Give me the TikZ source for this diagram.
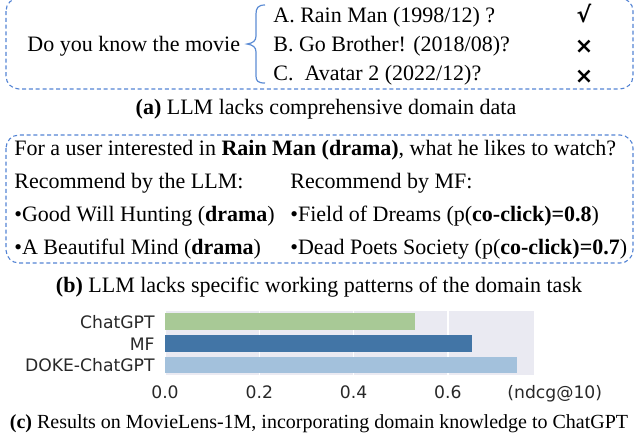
\documentclass[tikz,border=0pt]{standalone}
\usepackage{fontspec}
\setmainfont{Liberation Serif}
\newfontfamily\dvsans{DejaVu Sans}
\newfontfamily\dvsansb{DejaVu Sans Bold}
\definecolor{boxblue}{RGB}{84,132,212}
\definecolor{braceblue}{RGB}{92,140,212}
\definecolor{bggray}{RGB}{234,234,242}
\definecolor{bargreen}{RGB}{168,201,150}
\definecolor{barblue}{RGB}{66,117,166}
\definecolor{barlight}{RGB}{163,193,220}
\definecolor{lblgray}{RGB}{40,40,40}
\begin{document}
\begin{tikzpicture}[x=0.5pt,y=-0.5pt,
  dashbox/.style={draw=boxblue, dash pattern=on 2pt off 1.4pt, line width=0.55pt, rounded corners=6.5pt},
  txt/.style={inner sep=0pt, font=\fontsize{11}{13}\selectfont, anchor=base west},
  capt/.style={inner sep=0pt, font=\fontsize{11}{13}\selectfont, anchor=base},
  captsmall/.style={inner sep=0pt, font=\fontsize{10}{12}\selectfont, anchor=base},
  ansmark/.style={inner sep=0pt, font=\dvsansb\fontsize{11}{13}\selectfont},
  clbl/.style={inner sep=0pt, font=\dvsans\fontsize{8.6}{10}\selectfont, text=lblgray},
  gridline/.style={draw=white, line width=0.8pt}]
\useasboundingbox (0,0) rectangle (639,435);

% ---------- (a) ----------
\draw[dashbox] (6,-2) rectangle (633,89);
\node[txt] (q) at (27,51) {Do you know the movie};
\draw[braceblue, line width=0.6pt] (265,5) .. controls (258,5) and (256,8) .. (256,14) -- (256,36)
  .. controls (256,41) and (253,43) .. (247,44) .. controls (253,45) and (256,47) .. (256,52)
  -- (256,76) .. controls (256,81) and (258,83) .. (265,83);
\node[txt] (ia) at (273,22) {A. Rain Man (1998/12) ?};
\node[txt] (ib) at (273,51) {B. Go Brother! (2018/08)?};
\node[txt] (ic) at (273,80) {C.\ \ Avatar 2 (2022/12)?};
\node[ansmark] (ma) at (584,14) {√};
\node[ansmark] (mb) at (584,47) {×};
\node[ansmark] (mc) at (584,77) {×};
\node[capt] (capa) at (326,114) {\textbf{(a)} LLM lacks comprehensive domain data};

% ---------- (b) ----------
\draw[dashbox] (6,135) rectangle (633,263);
\node[txt] (l1) at (14,155) {For a user interested in \textbf{Rain Man (drama)}, what he likes to watch?};
\node[txt] (l2) at (14,188) {Recommend by the LLM:};
\node[txt] (l3) at (290,188) {Recommend by MF:};
\node[txt] (l4) at (14,221) {•Good Will Hunting (\textbf{drama})};
\node[txt] (l5) at (290,221) {•Field of Dreams (p(\textbf{co-click)=0.8})};
\node[txt] (l6) at (14,254) {•A Beautiful Mind (\textbf{drama})};
\node[txt] (l7) at (290,254) {•Dead Poets Society (p(\textbf{co-click)=0.7})};
\node[capt] (capb) at (319,292) {\textbf{(b)} LLM lacks specific working patterns of the domain task};

% ---------- (c) chart ----------
\fill[bggray] (165,311) rectangle (534,375);
\foreach \gx in {165,259.3,353.6,447.9} \draw[gridline] (\gx,311) -- (\gx,375);
\fill[bargreen] (165,313) rectangle (415,330);
\fill[barblue] (165,335) rectangle (472,352);
\fill[barlight] (165,357) rectangle (517,373);
\node[clbl, anchor=base east] (b1) at (155,328) {ChatGPT};
\node[clbl, anchor=base east] (b2) at (155,350) {MF};
\node[clbl, anchor=base east] (b3) at (155,371.5) {DOKE-ChatGPT};
\node[clbl, anchor=base] (t0) at (165,398.5) {0.0};
\node[clbl, anchor=base] (t1) at (259.3,398.5) {0.2};
\node[clbl, anchor=base] (t2) at (353.6,398.5) {0.4};
\node[clbl, anchor=base] (t3) at (447.9,398.5) {0.6};
\node[clbl, anchor=base west] (tn) at (507,398.5) {(ndcg@10)};
\node[captsmall] (capc) at (319,428) {\textbf{(c)} Results on MovieLens-1M, incorporating domain knowledge to ChatGPT};
\end{tikzpicture}
\end{document}
